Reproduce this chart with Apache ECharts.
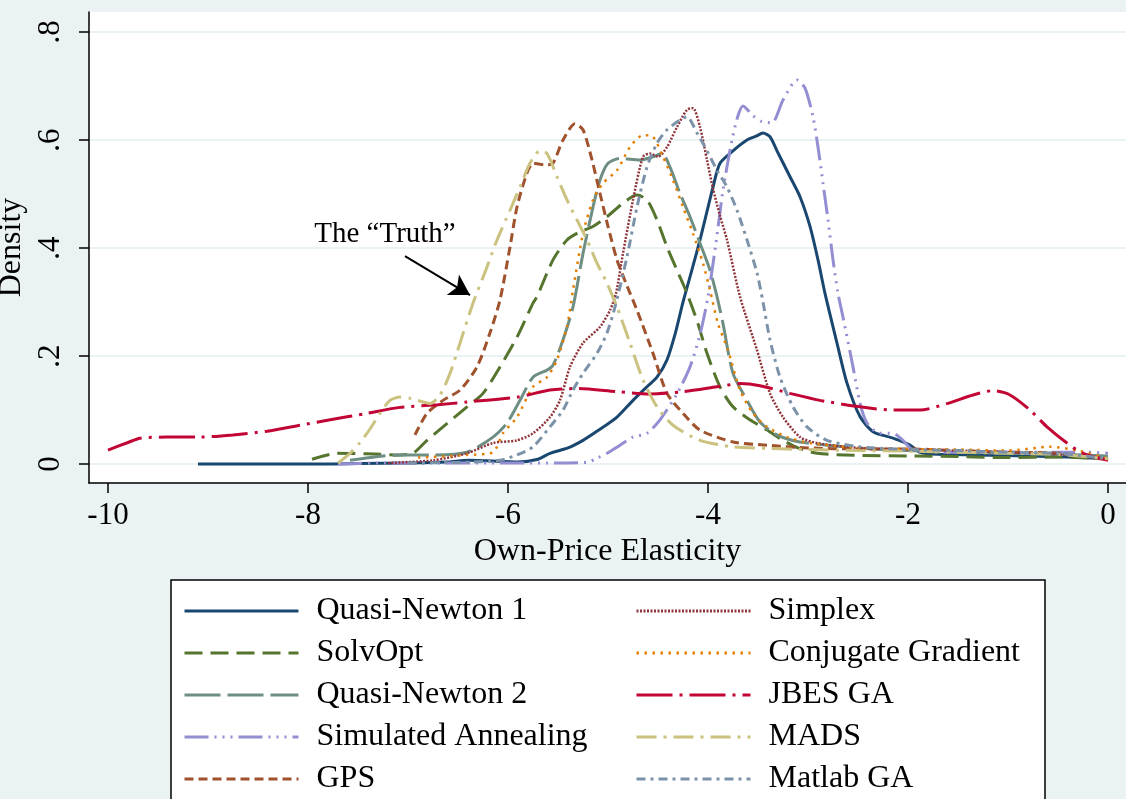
<!DOCTYPE html>
<html>
<head>
<meta charset="utf-8">
<script src="https://cdn.jsdelivr.net/npm/echarts@6/dist/echarts.min.js"></script>
<style>
html,body{margin:0;padding:0;background:#eaf2f3;}
#chart{width:1126px;height:799px;}
</style>
</head>
<body>
<div id="chart"></div>
<script>
// ---- tick values & labels ----
const xTicks = [-10, -8, -6, -4, -2, 0];
const yTicks = [0, 0.2, 0.4, 0.6, 0.8];
const yTickLabels = ['0', '.2', '.4', '.6', '.8'];

// ---- series (x = own-price elasticity, y = density) ----
const quasiNewton1 = [[-9.1,0],[-8.5,0],[-8,0],[-7.5,0.001],[-7,0.002],[-6.6,0.004],[-6.4,0.007],[-6.2,0.006],[-5.9,0.004],[-5.7,0.009],[-5.58,0.02],[-5.4,0.03],[-5.25,0.044],[-5.1,0.062],[-4.91,0.087],[-4.75,0.118],[-4.6,0.145],[-4.51,0.161],[-4.41,0.193],[-4.33,0.24],[-4.25,0.3],[-4.16,0.36],[-4.08,0.415],[-3.95,0.513],[-3.88,0.557],[-3.75,0.58],[-3.61,0.6],[-3.52,0.607],[-3.45,0.613],[-3.38,0.606],[-3.31,0.58],[-3.18,0.532],[-3.08,0.495],[-2.98,0.44],[-2.9,0.378],[-2.83,0.316],[-2.71,0.224],[-2.61,0.15],[-2.48,0.088],[-2.35,0.06],[-2.15,0.048],[-1.98,0.035],[-1.88,0.022],[-1.7,0.018],[-1.3,0.017],[-0.8,0.015],[-0.4,0.013],[0,0.01]];
const solvOpt = [[-7.96,0.009],[-7.71,0.02],[-7.41,0.019],[-7.08,0.017],[-6.95,0.02],[-6.81,0.044],[-6.65,0.069],[-6.41,0.106],[-6.25,0.131],[-6.08,0.18],[-5.91,0.235],[-5.75,0.298],[-5.71,0.31],[-5.55,0.378],[-5.41,0.415],[-5.28,0.43],[-5.15,0.44],[-5.01,0.458],[-4.85,0.483],[-4.71,0.498],[-4.61,0.489],[-4.51,0.452],[-4.41,0.402],[-4.31,0.359],[-4.21,0.316],[-4.1,0.26],[-4.01,0.205],[-3.88,0.143],[-3.75,0.106],[-3.58,0.082],[-3.41,0.063],[-3.25,0.044],[-3.1,0.03],[-2.91,0.02],[-2.5,0.016],[-2,0.015],[-1.5,0.014],[-1,0.012],[-0.5,0.013],[0,0.01]];
const quasiNewton2 = [[-7.58,0.007],[-7.25,0.015],[-7.0,0.017],[-6.75,0.017],[-6.41,0.022],[-6.15,0.05],[-6.01,0.076],[-5.88,0.118],[-5.75,0.161],[-5.61,0.174],[-5.55,0.183],[-5.45,0.23],[-5.35,0.291],[-5.25,0.39],[-5.15,0.476],[-5.08,0.526],[-5.0,0.557],[-4.88,0.566],[-4.68,0.563],[-4.55,0.569],[-4.46,0.575],[-4.38,0.55],[-4.28,0.501],[-4.18,0.458],[-4.08,0.409],[-3.98,0.359],[-3.91,0.31],[-3.85,0.26],[-3.75,0.168],[-3.61,0.118],[-3.48,0.078],[-3.31,0.054],[-3.08,0.041],[-2.5,0.03],[-2,0.025],[-1.5,0.022],[-1,0.02],[-0.5,0.018],[0,0.015]];
const simulatedAnnealing = [[-7.7,0],[-7.3,0.002],[-6.8,0.002],[-6.2,0.002],[-5.6,0.002],[-5.21,0.003],[-5.1,0.012],[-5.01,0.02],[-4.88,0.035],[-4.75,0.05],[-4.61,0.057],[-4.48,0.082],[-4.31,0.13],[-4.18,0.18],[-4.08,0.24],[-4.0,0.31],[-3.92,0.41],[-3.85,0.507],[-3.76,0.6],[-3.7,0.645],[-3.65,0.663],[-3.55,0.645],[-3.46,0.634],[-3.36,0.632],[-3.25,0.674],[-3.11,0.711],[-3.03,0.696],[-2.95,0.643],[-2.9,0.587],[-2.85,0.52],[-2.8,0.452],[-2.75,0.378],[-2.7,0.316],[-2.65,0.272],[-2.55,0.18],[-2.48,0.113],[-2.41,0.076],[-2.28,0.057],[-2.15,0.057],[-2.05,0.044],[-1.95,0.026],[-1.5,0.022],[-1,0.022],[-0.5,0.022],[-0.2,0.022],[0,0.02]];
const gps = [[-6.93,0.054],[-6.81,0.094],[-6.65,0.118],[-6.48,0.137],[-6.31,0.18],[-6.18,0.243],[-6.08,0.304],[-5.98,0.402],[-5.91,0.476],[-5.81,0.539],[-5.75,0.557],[-5.68,0.555],[-5.61,0.554],[-5.55,0.557],[-5.45,0.6],[-5.33,0.63],[-5.25,0.619],[-5.16,0.563],[-5.08,0.501],[-5.0,0.44],[-4.91,0.378],[-4.81,0.33],[-4.71,0.285],[-4.55,0.205],[-4.41,0.131],[-4.25,0.094],[-4.08,0.063],[-3.75,0.041],[-3.41,0.035],[-3,0.03],[-2.5,0.028],[-2,0.028],[-1.5,0.025],[-1,0.022],[-0.5,0.02],[0,0.008]];
const simplex = [[-7.2,0.002],[-6.75,0.007],[-6.41,0.02],[-6.15,0.039],[-5.91,0.044],[-5.75,0.057],[-5.58,0.087],[-5.48,0.118],[-5.38,0.18],[-5.25,0.224],[-5.08,0.254],[-4.98,0.285],[-4.92,0.316],[-4.85,0.39],[-4.75,0.489],[-4.65,0.569],[-4.58,0.575],[-4.5,0.569],[-4.41,0.587],[-4.31,0.624],[-4.21,0.656],[-4.15,0.659],[-4.08,0.624],[-4.01,0.563],[-3.95,0.51],[-3.88,0.46],[-3.81,0.415],[-3.68,0.31],[-3.51,0.211],[-3.38,0.131],[-3.25,0.087],[-3.08,0.05],[-2.91,0.039],[-2.5,0.03],[-2,0.027],[-1.5,0.025],[-1,0.022],[-0.5,0.018],[0,0.01]];
const conjugateGradient = [[-6.9,0.012],[-6.41,0.017],[-6.15,0.022],[-6.05,0.057],[-5.91,0.087],[-5.75,0.143],[-5.61,0.161],[-5.51,0.193],[-5.41,0.254],[-5.35,0.322],[-5.25,0.427],[-5.15,0.489],[-5.05,0.52],[-4.91,0.544],[-4.78,0.587],[-4.65,0.609],[-4.55,0.606],[-4.45,0.569],[-4.35,0.526],[-4.25,0.476],[-4.15,0.427],[-4.05,0.372],[-3.98,0.322],[-3.9,0.26],[-3.8,0.211],[-3.68,0.137],[-3.55,0.094],[-3.41,0.069],[-3.21,0.05],[-2.98,0.039],[-2.5,0.03],[-2,0.028],[-1.5,0.027],[-1,0.025],[-0.58,0.032],[-0.3,0.025],[0,0.01]];
const jbesGA = [[-10,0.026],[-9.8,0.04],[-9.68,0.048],[-9.41,0.05],[-9.08,0.05],[-8.75,0.054],[-8.41,0.061],[-8.08,0.072],[-7.75,0.083],[-7.41,0.094],[-7.08,0.105],[-6.7,0.11],[-6.41,0.115],[-5.91,0.124],[-5.58,0.137],[-5.31,0.14],[-4.91,0.134],[-4.58,0.13],[-4.25,0.134],[-3.91,0.143],[-3.68,0.149],[-3.48,0.145],[-3.18,0.131],[-2.88,0.118],[-2.48,0.106],[-2.15,0.1],[-1.88,0.1],[-1.61,0.112],[-1.35,0.128],[-1.15,0.136],[-0.98,0.128],[-0.78,0.1],[-0.61,0.069],[-0.41,0.039],[-0.25,0.02],[0,0.007]];
const mads = [[-7.7,0.002],[-7.58,0.02],[-7.48,0.04],[-7.38,0.065],[-7.28,0.094],[-7.18,0.118],[-7.08,0.124],[-6.98,0.122],[-6.85,0.115],[-6.78,0.112],[-6.68,0.128],[-6.58,0.168],[-6.48,0.224],[-6.35,0.298],[-6.22,0.36],[-6.11,0.415],[-5.98,0.47],[-5.88,0.513],[-5.78,0.557],[-5.68,0.58],[-5.61,0.575],[-5.51,0.532],[-5.41,0.489],[-5.31,0.452],[-5.21,0.415],[-5.11,0.372],[-5.01,0.335],[-4.91,0.291],[-4.78,0.224],[-4.65,0.156],[-4.51,0.106],[-4.35,0.072],[-4.08,0.044],[-3.75,0.032],[-3.41,0.029],[-3,0.027],[-2.5,0.025],[-2,0.024],[-1.5,0.022],[-1,0.02],[-0.5,0.018],[0,0.01]];
const matlabGA = [[-7.0,0.002],[-6.5,0.003],[-6.08,0.007],[-5.91,0.017],[-5.75,0.032],[-5.58,0.069],[-5.45,0.1],[-5.35,0.137],[-5.25,0.168],[-5.11,0.205],[-5.01,0.243],[-4.93,0.291],[-4.81,0.384],[-4.71,0.476],[-4.61,0.55],[-4.51,0.594],[-4.41,0.619],[-4.28,0.637],[-4.21,0.643],[-4.11,0.613],[-4.01,0.58],[-3.91,0.544],[-3.81,0.513],[-3.71,0.47],[-3.61,0.415],[-3.51,0.354],[-3.45,0.3],[-3.38,0.23],[-3.28,0.161],[-3.15,0.106],[-3.01,0.069],[-2.81,0.044],[-2.48,0.032],[-2,0.027],[-1.5,0.025],[-1,0.022],[-0.5,0.02],[0,0.01]];

// annotation
const annotationText = 'The \u201CTruth\u201D';
const annotationTextAt = [-7.23, 0.426];
const arrowFrom = [-7.03, 0.385];
const arrowTo = [-6.38, 0.313];

const FONT = 'Liberation Serif';

const seriesDefs = [
  {name:'Quasi-Newton 1', data: quasiNewton1, color:'#1a476f', type:'solid', width:3},
  {name:'SolvOpt', data: solvOpt, color:'#55752f', type:[18,8], width:3},
  {name:'Quasi-Newton 2', data: quasiNewton2, color:'#6e8e84', type:[36,7], width:3},
  {name:'Simulated Annealing', data: simulatedAnnealing, color:'#938dd2', type:[24,6,2,6,2,6,2,6], width:3},
  {name:'GPS', data: gps, color:'#a0522d', type:[9,5], width:3},
  {name:'Simplex', data: simplex, color:'#90353b', type:[2,1.5], width:2.5},
  {name:'Conjugate Gradient', data: conjugateGradient, color:'#e37e00', type:[2.5,5.5], width:2.5},
  {name:'JBES GA', data: jbesGA, color:'#c10534', type:[36,7,3,7], width:3},
  {name:'MADS', data: mads, color:'#cac27e', type:[20,7,3,7], width:3},
  {name:'Matlab GA', data: matlabGA, color:'#7b92a8', type:[9,5,3,5], width:3}
];

const series = seriesDefs.map(s => ({
  name: s.name, type: 'line', data: s.data, showSymbol: false, symbol: 'none',
  smooth: 0.25, color: s.color,
  lineStyle: {color: s.color, width: s.width, type: s.type, cap: 'butt'},
  emphasis: {disabled: true}, z: 3
}));

series.push({
  name: 'annotation', type: 'line', data: [], symbol: 'none',
  markLine: {
    silent: true, symbol: ['none', 'arrow'], symbolSize: [18, 20],
    lineStyle: {color: '#000', width: 2, type: 'solid'},
    label: {show: false},
    data: [[{coord: arrowFrom}, {coord: arrowTo}]]
  },
  markPoint: {
    silent: true, symbol: 'circle', symbolSize: 1, itemStyle: {color: 'rgba(0,0,0,0)'},
    label: {show: true, position: 'inside', formatter: annotationText, color: '#000', fontFamily: FONT, fontSize: 29},
    data: [{coord: annotationTextAt}]
  }
});

const legendCommon = {
  orient: 'vertical', padding: 0, itemWidth: 114, itemHeight: 14, itemGap: 10,
  selectedMode: false,
  textStyle: {fontFamily: FONT, fontSize: 32, color: '#000', lineHeight: 32, padding: [0,0,0,13]},
  lineStyle: {width: 3},
  itemStyle: {color: 'rgba(0,0,0,0)', borderColor: 'rgba(0,0,0,0)', borderWidth: 0, opacity: 0}
};

const option = {
  animation: false,
  backgroundColor: '#eaf2f3',
  grid: {left: 89, right: 0, top: 12, bottom: 316, show: true, backgroundColor: '#ffffff', borderWidth: 0, outerBoundsMode: 'none', containLabel: false},
  xAxis: {
    type: 'value', min: -10.19, max: 0.18,
    name: 'Own-Price Elasticity', nameLocation: 'middle', nameGap: 44,
    nameTextStyle: {fontFamily: FONT, fontSize: 32, color: '#000'},
    axisLine: {show: true, onZero: false, lineStyle: {color: '#000', width: 1.5}},
    axisTick: {show: true, length: 10, lineStyle: {color: '#000', width: 1.5}, customValues: xTicks},
    axisLabel: {customValues: xTicks, margin: 17, fontFamily: FONT, fontSize: 31, color: '#000',
      formatter: v => String(Math.round(v))},
    splitLine: {show: false}
  },
  yAxis: {
    type: 'value', min: -0.035, max: 0.837,
    name: 'Density', nameLocation: 'middle', nameGap: 55, nameRotate: 90,
    nameTextStyle: {fontFamily: FONT, fontSize: 32, color: '#000'},
    axisLine: {show: true, onZero: false, lineStyle: {color: '#000', width: 1.5}},
    axisTick: {show: true, length: 10, lineStyle: {color: '#000', width: 1.5}, customValues: yTicks},
    axisLabel: {customValues: yTicks, rotate: 90, margin: 23, fontFamily: FONT, fontSize: 31, color: '#000',
      formatter: v => { const i = yTicks.findIndex(t => Math.abs(t - v) < 1e-9); return i >= 0 ? yTickLabels[i] : ''; }},
    splitLine: {show: true, lineStyle: {color: '#eaf2f3', width: 2}}
  },
  legend: [
    Object.assign({left: 183, top: 595, data: ['Quasi-Newton 1','SolvOpt','Quasi-Newton 2','Simulated Annealing','GPS']}, legendCommon),
    Object.assign({left: 635, top: 595, data: ['Simplex','Conjugate Gradient','JBES GA','MADS','Matlab GA']}, legendCommon)
  ],
  graphic: [{
    type: 'rect', z: 0, silent: true,
    shape: {x: 171, y: 580, width: 874, height: 240},
    style: {fill: '#ffffff', stroke: '#000000', lineWidth: 1.5}
  }],
  series: series
};

const chart = echarts.init(document.getElementById('chart'), null, {renderer: 'canvas'});
chart.setOption(option);
</script>
</body>
</html>
